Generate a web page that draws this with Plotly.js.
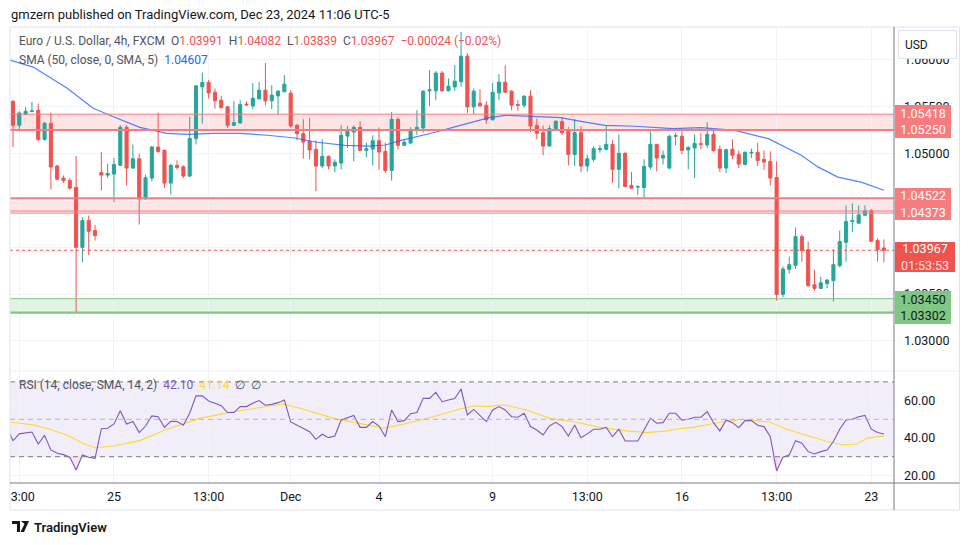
<!DOCTYPE html>
<html>
<head>
<meta charset="utf-8">
<script src="https://cdn.plot.ly/plotly-3.0.1.min.js"></script>
<style>html,body{margin:0;padding:0;background:#fff;}#chart{width:970px;height:545px;}</style>
</head>
<body>
<div id="chart"></div>
<script>
// ---------- DATA ----------
const openP = [1.05556,1.05299,1.05417,1.05446,1.05460,1.05150,1.05321,1.04865,1.04736,1.04711,
1.04636,1.03998,1.04283,1.04177,1.04797,1.04768,1.04779,1.04872,1.05278,1.04843,
1.04943,1.04515,1.04736,1.05068,1.05032,1.04683,1.04872,1.04857,1.04758,1.05157,
1.05709,1.05756,1.05652,1.05567,1.05496,1.05299,1.05324,1.05524,1.05506,1.05581,
1.05674,1.05560,1.05613,1.05656,1.05642,1.05299,1.05210,1.05128,1.05043,1.04865,
1.04968,1.04865,1.04897,1.05185,1.05228,1.05278,1.05032,1.05046,1.05135,1.05021,
1.04818,1.05364,1.05086,1.05111,1.05253,1.05271,1.05667,1.05667,1.05856,1.05667,
1.05709,1.05763,1.06037,1.05496,1.05535,1.05513,1.05357,1.05645,1.05759,1.05663,
1.05520,1.05513,1.05610,1.05299,1.05221,1.05078,1.05260,1.05339,1.05246,1.04989,
1.05221,1.04865,1.04936,1.05039,1.05043,1.05096,1.04829,1.05000,1.04658,1.04640,
1.04636,1.04854,1.05096,1.04950,1.04843,1.05182,1.05182,1.05036,1.05057,1.05103,
1.05089,1.05203,1.05043,1.04843,1.05043,1.04989,1.04882,1.05004,1.05011,1.04936,
1.04914,1.04743,1.03496,1.03763,1.03806,1.04112,1.03973,1.03599,1.03560,1.03613,
1.03642,1.03802,1.04052,1.04273,1.04255,1.04340,1.04387,1.04070,1.03991];
const highP = [1.05567,1.05449,1.05496,1.05549,1.05531,1.05335,1.05435,1.04879,1.04765,1.04736,
1.04971,1.04319,1.04337,1.04237,1.05014,1.04889,1.04950,1.05299,1.05299,1.05093,
1.04996,1.04772,1.05078,1.05435,1.05043,1.04889,1.04925,1.04872,1.05389,1.05727,
1.05863,1.05784,1.05692,1.05613,1.05506,1.05556,1.05567,1.05556,1.05749,1.05763,
1.05963,1.05727,1.05674,1.05834,1.05674,1.05314,1.05364,1.05378,1.05139,1.05150,
1.04979,1.04936,1.05299,1.05292,1.05299,1.05342,1.05114,1.05193,1.05278,1.05114,
1.05442,1.05385,1.05143,1.05278,1.05460,1.05674,1.05888,1.05877,1.05877,1.05799,
1.05941,1.06294,1.06070,1.05692,1.05685,1.05556,1.05749,1.05845,1.05941,1.05674,
1.05567,1.05620,1.05674,1.05371,1.05299,1.05299,1.05353,1.05385,1.05282,1.05364,
1.05289,1.04986,1.05075,1.05086,1.05299,1.05139,1.05203,1.05014,1.04800,1.04658,
1.04936,1.05235,1.05096,1.05032,1.05200,1.05221,1.05235,1.05075,1.05203,1.05217,
1.05332,1.05257,1.05086,1.05050,1.05150,1.05029,1.05021,1.05050,1.05114,1.05029,
1.05021,1.04914,1.03795,1.03898,1.04209,1.04137,1.04059,1.03759,1.03684,1.03660,
1.03973,1.04177,1.04444,1.04465,1.04444,1.04444,1.04408,1.04094,1.04082];
const lowP = [1.05068,1.05253,1.05406,1.05440,1.05128,1.05135,1.04615,1.04715,1.04686,1.04614,
1.03303,1.03838,1.03916,1.04070,1.04604,1.04736,1.04480,1.04865,1.04658,1.04836,
1.04241,1.04508,1.04701,1.05007,1.04629,1.04562,1.04829,1.04736,1.04747,1.05096,
1.05317,1.05585,1.05478,1.05478,1.05271,1.05289,1.05317,1.05506,1.05471,1.05578,
1.05513,1.05471,1.05414,1.05656,1.05271,1.05139,1.04943,1.04936,1.04597,1.04843,
1.04829,1.04800,1.04829,1.05057,1.04914,1.05021,1.04961,1.04872,1.04825,1.04793,
1.04711,1.05043,1.05078,1.05096,1.05200,1.05221,1.05503,1.05567,1.05656,1.05660,
1.05667,1.05709,1.05431,1.05417,1.05499,1.05314,1.05353,1.05567,1.05645,1.05460,
1.05453,1.05485,1.05228,1.05150,1.04979,1.05075,1.05242,1.05193,1.04872,1.04865,
1.04800,1.04807,1.04907,1.05007,1.05032,1.04683,1.04629,1.04640,1.04622,1.04558,
1.04515,1.04829,1.04807,1.04882,1.04829,1.05086,1.04993,1.04829,1.04736,1.05046,
1.05057,1.05021,1.04800,1.04790,1.04936,1.04843,1.04872,1.04950,1.04865,1.04825,
1.04658,1.03428,1.03463,1.03717,1.03767,1.03845,1.03581,1.03535,1.03553,1.03563,
1.03421,1.03784,1.03845,1.04159,1.04252,1.04337,1.04059,1.03848,1.03839];
const closeP = [1.05299,1.05431,1.05449,1.05453,1.05150,1.05321,1.04854,1.04725,1.04708,1.04629,
1.03998,1.04283,1.04169,1.04123,1.04768,1.04786,1.04882,1.05278,1.04843,1.04943,
1.04515,1.04740,1.05068,1.05021,1.04683,1.04872,1.04850,1.04758,1.05160,1.05720,
1.05756,1.05645,1.05560,1.05488,1.05299,1.05328,1.05520,1.05517,1.05588,1.05674,
1.05560,1.05620,1.05663,1.05738,1.05292,1.05210,1.05121,1.05036,1.04865,1.04968,
1.04865,1.04904,1.05193,1.05235,1.05278,1.05032,1.05050,1.05135,1.05014,1.04818,
1.05364,1.05086,1.05118,1.05253,1.05278,1.05663,1.05677,1.05856,1.05667,1.05717,
1.05770,1.06037,1.05496,1.05663,1.05506,1.05357,1.05652,1.05759,1.05652,1.05513,
1.05513,1.05610,1.05292,1.05214,1.05078,1.05264,1.05342,1.05221,1.04989,1.05221,
1.04865,1.04943,1.05050,1.05050,1.05096,1.04829,1.05000,1.04647,1.04629,1.04647,
1.04861,1.05096,1.04950,1.04979,1.05182,1.05189,1.05032,1.05064,1.05107,1.05096,
1.05203,1.05029,1.04843,1.05039,1.04979,1.04886,1.05011,1.05011,1.04925,1.04907,
1.04736,1.03496,1.03767,1.03813,1.04112,1.03963,1.03588,1.03560,1.03620,1.03649,
1.03813,1.04059,1.04273,1.04283,1.04344,1.04387,1.04062,1.03973,1.03967];

// time-axis tick labels (bar index -> label)
const tickBars = [1,16,31,44,58,76,91,106,121,136];
const tickLabels = ['13:00','25','13:00','Dec','4','9','13:00','16','13:00','23'];

// SMA(50, smoothed 5) (bar position, price)
const smaX = [-0.5,3.2,8.6,12.7,16.5,20.1,24.4,27.6,31.7,36,40.3,44.7,47.9,52.6,56.3,59,61.5,66.9,69.7,72.1,75.3,78,82.1,86.8,90,93.8,98.6,104.6,109,114.4,119.7,121.2,124.9,127.6,130.7,134.4,138];
const smaY = [1.05995,1.05920,1.05695,1.05481,1.05374,1.05278,1.05214,1.05203,1.05214,1.05214,1.05193,1.05164,1.05121,1.05086,1.05078,1.05089,1.05139,1.05225,1.05278,1.05324,1.05378,1.05406,1.05396,1.05382,1.05342,1.05299,1.05289,1.05264,1.05275,1.05246,1.05157,1.05104,1.04979,1.04853,1.04747,1.04693,1.04607];

// RSI(14) per bar, starting at bar -1
const rsiVals = [45.4,
38.6,42.2,42.9,43.2,36.8,41.4,33.6,31.8,31.1,29.7,
22.9,30.9,29.7,29.1,45.0,45.2,47.5,54.6,47.5,48.8,
42.9,46.4,51.8,51.4,45.7,48.9,48.8,46.8,53.2,62.5,
62.5,59.8,58.6,57.3,53.6,53.6,56.8,56.8,58.6,60.0,
57.5,58.0,58.9,60.3,48.6,47.0,45.2,43.4,39.3,42.0,
40.2,41.1,49.6,50.9,52.1,45.7,45.7,48.8,46.4,40.7,
55.0,48.8,49.3,53.0,53.6,61.2,61.2,64.4,59.4,60.3,
61.1,66.2,52.3,55.3,52.3,48.8,55.0,56.8,55.0,51.4,
51.1,53.2,46.1,44.3,41.6,46.4,48.4,46.1,41.1,47.0,
40.2,42.2,44.7,44.7,45.7,40.7,44.7,38.4,38.4,38.4,
44.3,50.5,47.9,48.2,53.2,53.2,49.6,50.0,51.1,51.1,
54.1,48.2,43.8,49.6,48.2,45.5,49.3,49.3,46.8,46.1,
40.7,22.4,29.7,30.9,38.6,37.2,32.7,31.5,32.7,33.6,
38.1,44.7,49.6,50.0,51.4,52.1,44.7,42.9,42.1];

// SMA(14) of RSI (bar position, value)
const rsmaX = [-0.3,3.2,5.9,8.5,11.1,13,15.9,20.1,24.4,29.6,35,40.2,42.8,45.5,50.8,56.1,58.7,61.3,66.6,70.8,73,75.1,77.7,81.4,85.1,89.3,93,97.3,100.4,103.6,105.2,107.8,112,115.7,120,122.6,126.3,129,131.6,133.7,135.3,138];
const rsmaY = [48.4,47.0,44.7,41.6,37.2,34.8,35.7,38.6,44.7,50.5,54.1,56.8,58.2,55.9,50.5,47.0,45.2,47.0,51.4,55.5,57.1,56.8,57.8,55.0,50.5,48.4,45.7,43.8,42.9,43.8,44.8,45.7,48.4,50.0,48.4,44.7,40.7,38.1,36.3,36.8,39.8,41.14];

// horizontal zones / levels
const zoneTop = [1.05418, 1.04522, 1.03450];
const zoneBot = [1.05250, 1.04373, 1.03302];
const lastPrice = 1.03967;
const priceTicks = [1.030,1.035,1.040,1.045,1.050,1.055,1.060];
const priceTickText = ['1.03000','1.03500','','','1.05000','1.05500','1.06000'];
const rsiTicks = [20,40,60];
const rsiLower = 30, rsiUpper = 70, rsiMid = 50;

// ---------- LAYOUT HELPERS ----------
const W = 970, H = 545;
const PX = x => x / W;
const PY = y => 1 - y / H;
const N = closeP.length;
const idx = closeP.map((_, i) => i);
const rsiIdx = rsiVals.map((_, i) => i - 1);
const FONT = 'Roboto, "Liberation Sans", sans-serif';
const UP = '#26a69a', DN = '#ef5350';
const L = PX(10), R = PX(894);

const traces = [
  {type:'candlestick', x: idx, open: openP, high: highP, low: lowP, close: closeP,
   xaxis:'x', yaxis:'y', whiskerwidth: 0, hoverinfo:'skip', showlegend:false,
   increasing:{line:{color:UP, width:1}, fillcolor:UP},
   decreasing:{line:{color:DN, width:1}, fillcolor:DN}},
  {type:'scatter', mode:'lines', x: smaX, y: smaY, xaxis:'x', yaxis:'y',
   line:{color:'rgba(41,98,255,0.8)', width:1.2}, hoverinfo:'skip', showlegend:false},
  // oversold fill (area between the 30 level and RSI where RSI < 30)
  {type:'scatter', mode:'lines', x: rsiIdx, y: rsiIdx.map(() => rsiLower), xaxis:'x2', yaxis:'y2',
   line:{width:0, color:'rgba(0,0,0,0)'}, hoverinfo:'skip', showlegend:false},
  {type:'scatter', mode:'lines', x: rsiIdx, y: rsiVals.map(v => Math.min(v, rsiLower)), xaxis:'x2', yaxis:'y2',
   fill:'tonexty', fillcolor:'rgba(242,54,69,0.14)', line:{width:0, color:'rgba(0,0,0,0)'}, hoverinfo:'skip', showlegend:false},
  {type:'scatter', mode:'lines', x: rsmaX, y: rsmaY, xaxis:'x2', yaxis:'y2',
   line:{color:'#fdd835', width:1.1}, hoverinfo:'skip', showlegend:false},
  {type:'scatter', mode:'lines', x: rsiIdx, y: rsiVals, xaxis:'x2', yaxis:'y2',
   line:{color:'#7e57c2', width:1.1}, hoverinfo:'skip', showlegend:false}
];

const shapes = [];
const hline = (y, color, width, dash, yref) => shapes.push({type:'line', xref:'paper', yref: yref || 'y',
  x0: L, x1: R, y0: y, y1: y, line:{color, width, dash: dash || 'solid'}, layer:'above'});
// zones
const zFill = ['rgba(247,124,128,0.2)','rgba(247,124,128,0.2)','rgba(129,199,132,0.22)'];
const zLine = ['#f77c80','#f77c80','#81c784'];
for (let k = 0; k < 3; k++) {
  shapes.push({type:'rect', xref:'paper', yref:'y', x0:L, x1:R, y0: zoneBot[k], y1: zoneTop[k],
    fillcolor: zFill[k], line:{width:0}, layer:'below'});
}
hline(zoneTop[0], zLine[0], 1); hline(zoneBot[0], zLine[0], 2);
hline(zoneTop[1], zLine[1], 2); hline(zoneBot[1] + 0.00012, zLine[1], 1); hline(zoneBot[1] - 0.0001, zLine[1], 1);
hline(zoneTop[2], zLine[2], 1); hline(zoneBot[2], zLine[2], 2.2);
hline(lastPrice, DN, 1, 'dot');
// RSI band
shapes.push({type:'rect', xref:'paper', yref:'y2', x0:L, x1:R, y0:rsiLower, y1:rsiUpper,
  fillcolor:'rgba(126,87,194,0.1)', line:{width:0}, layer:'below'});
hline(rsiUpper, '#787b86', 1, '5px,4px', 'y2');
hline(rsiMid, '#b2b5be', 1, '5px,4px', 'y2');
hline(rsiLower, '#787b86', 1, '5px,4px', 'y2');
// frame
shapes.push({type:'rect', xref:'paper', yref:'paper', x0:PX(10), x1:PX(959.5), y0:PY(510), y1:PY(27),
  line:{color:'#e0e3eb', width:1}, fillcolor:'rgba(0,0,0,0)', layer:'above'});
shapes.push({type:'line', xref:'paper', yref:'paper', x0:PX(10), x1:PX(959.5), y0:PY(371), y1:PY(371),
  line:{color:'#eef0f5', width:1}, layer:'above'});
shapes.push({type:'line', xref:'paper', yref:'paper', x0:PX(10), x1:PX(959.5), y0:PY(483), y1:PY(483),
  line:{color:'#787b86', width:1}, layer:'above'});
shapes.push({type:'line', xref:'paper', yref:'paper', x0:PX(894), x1:PX(894), y0:PY(510), y1:PY(27),
  line:{color:'#787b86', width:1}, layer:'above'});
// clip of first time label at the left edge
shapes.push({type:'rect', xref:'paper', yref:'paper', x0:0, x1:PX(9.5), y0:PY(506), y1:PY(486),
  fillcolor:'#ffffff', line:{width:0}, layer:'above'});
// logo mark
shapes.push({type:'path', xref:'paper', yref:'paper',
  path:`M ${PX(12)} ${PY(521)} L ${PX(20)} ${PY(521)} L ${PX(20)} ${PY(532)} L ${PX(17)} ${PY(532)} L ${PX(17)} ${PY(524)} L ${PX(12)} ${PY(524)} Z`,
  fillcolor:'#131722', line:{width:0}, layer:'above'});
shapes.push({type:'path', xref:'paper', yref:'paper',
  path:`M ${PX(21)} ${PY(521)} L ${PX(29)} ${PY(521)} L ${PX(24)} ${PY(532)} L ${PX(20.5)} ${PY(532)} L ${PX(24.5)} ${PY(524)} Z`,
  fillcolor:'#131722', line:{width:0}, layer:'above'});

const f5 = v => v.toFixed(5);
const red = s => `<span style="color:${DN}">${s}</span>`;
const sp = '\u00a0\u00a0';
const last = N - 1;
const legend1 = `Euro / U.S. Dollar, 4h, FXCM${sp}O${red(f5(openP[last]))}${sp}H${red(f5(highP[last]))}${sp}L${red(f5(lowP[last]))}${sp}C${red(f5(closeP[last]))}${sp}${red('\u22120.00024 (\u22120.02%)')}`;
const legend2 = `SMA (50, close, 0, SMA, 5)${sp}<span style="color:#2962ff">${f5(smaY[smaY.length-1])}</span>`;
const legend3 = `RSI (14, close, SMA, 14, 2)${sp}<span style="color:#7e57c2">${rsiVals[rsiVals.length-1].toFixed(2)}</span>${sp}<span style="color:#fdd835">${rsmaY[rsmaY.length-1].toFixed(2)}</span>${sp}\u2205${sp}\u2205`;

const ann = [];
const txt = (x, y, text, size, color, extra) => ann.push(Object.assign({xref:'paper', yref:'paper', x:PX(x), y:PY(y),
  xanchor:'left', yanchor:'middle', text, showarrow:false, font:{family:FONT, size, color}}, extra || {}));
txt(9, 14, 'gmzern published on TradingView.com, Dec 23, 2024 11:06 UTC-5', 13, '#131722');
txt(17, 41, legend1, 12, '#50535e');
txt(17, 60, legend2, 12, '#50535e');
txt(17, 385, legend3, 12, '#50535e');
txt(32, 527, 'TradingView', 13, '#131722', {font:{family:FONT, size:13, color:'#131722', weight:600}});
// price labels
const box = (yTop, yBot, text, bg, color, w) => ann.push({xref:'paper', yref:'paper', x:PX(895), y:PY((yTop+yBot)/2),
  xanchor:'left', yanchor:'middle', width: w || 56, height: yBot - yTop, bgcolor: bg, borderpad:0, borderwidth:0,
  align:'center', valign:'middle', showarrow:false, text, font:{family:FONT, size:12.5, color}});
box(105, 138, `${f5(zoneTop[0])}<br>${f5(zoneBot[0])}`, '#f77c80', '#ffffff');
box(188, 220, `${f5(zoneTop[1])}<br>${f5(zoneBot[1])}`, '#f77c80', '#ffffff');
box(242, 272, `${f5(lastPrice)}<br><span style="color:#fde0e0">01:53:53</span>`, '#ef5350', '#ffffff', 60);
box(291, 324, `${f5(zoneTop[2])}<br>${f5(zoneBot[2])}`, '#81c784', '#131722');
ann.push({xref:'paper', yref:'paper', x:PX(898), y:PY(44), xanchor:'left', yanchor:'middle', width:57, height:27,
  bgcolor:'#ffffff', bordercolor:'#e0e3eb', borderwidth:1, borderpad:0, showarrow:false,
  align:'left', text:'\u00a0\u00a0USD', font:{family:FONT, size:12, color:'#131722'}});

const layout = {
  width: W, height: H, margin:{l:0, r:0, t:0, b:0},
  paper_bgcolor:'#ffffff', plot_bgcolor:'#ffffff',
  showlegend:false, hovermode:false, dragmode:false,
  font:{family:FONT, size:12, color:'#131722'},
  xaxis:{domain:[L, R], range:[-0.475, 139.6], anchor:'y', tickvals: tickBars, ticktext: tickLabels,
    showticklabels:false, showgrid:true, gridcolor:'#f0f3fa', zeroline:false, showline:false, ticks:'',
    rangeslider:{visible:false}, fixedrange:true},
  yaxis:{domain:[PY(371), PY(27)], range:[1.026791, 1.063476], anchor:'x', side:'right',
    tickvals: priceTicks, ticktext: priceTickText, showgrid:true, gridcolor:'#f0f3fa',
    zeroline:false, showline:false, ticks:'', ticklabelstandoff:9,
    tickfont:{family:FONT, size:12.5, color:'#131722'}, fixedrange:true},
  xaxis2:{domain:[L, R], range:[-0.475, 139.6], anchor:'y2', matches:'x', tickvals: tickBars, ticktext: tickLabels,
    showgrid:true, gridcolor:'#f0f3fa', zeroline:false, showline:false, ticks:'', ticklabelstandoff:4,
    tickfont:{family:FONT, size:12.5, color:'#131722'}, rangeslider:{visible:false}, fixedrange:true},
  yaxis2:{domain:[PY(483), PY(372)], range:[15.94, 75.29], anchor:'x2', side:'right',
    tickvals: rsiTicks, ticktext: rsiTicks.map(v => v.toFixed(2)), showgrid:true, gridcolor:'#f0f3fa',
    zeroline:false, showline:false, ticks:'', ticklabelstandoff:9,
    tickfont:{family:FONT, size:12.5, color:'#131722'}, fixedrange:true},
  shapes, annotations: ann
};

Plotly.newPlot('chart', traces, layout, {staticPlot:true, displayModeBar:false});
</script>
</body>
</html>
